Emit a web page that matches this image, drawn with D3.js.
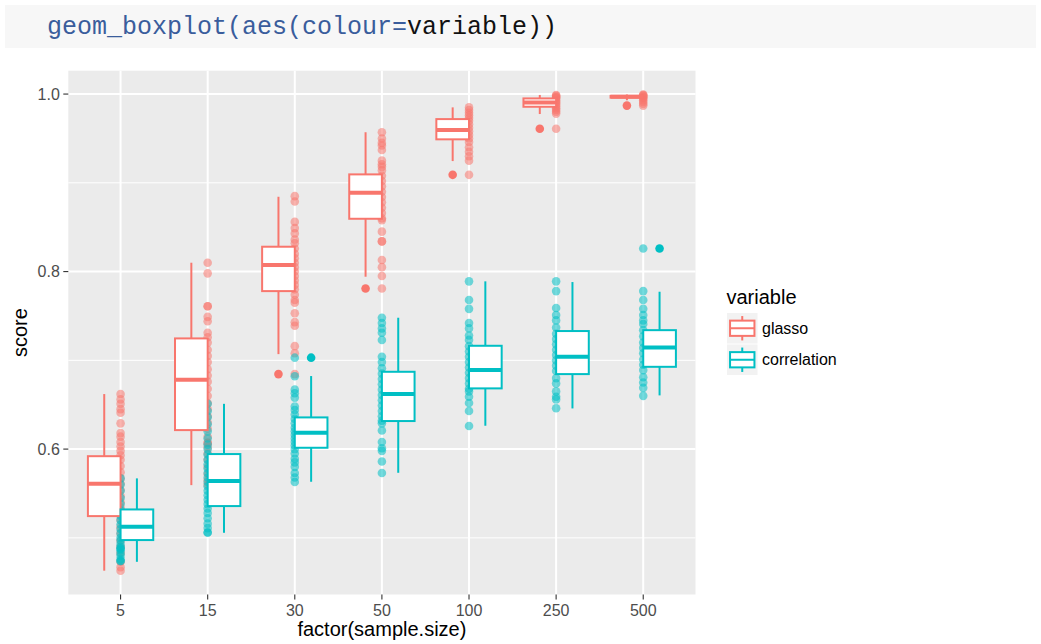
<!DOCTYPE html>
<html>
<head>
<meta charset="utf-8">
<script src="https://cdn.jsdelivr.net/npm/d3@7"></script>
<style>
  html, body { margin: 0; padding: 0; background: #ffffff; }
  svg { display: block; }
</style>
</head>
<body>
<svg id="chart" width="1041" height="644"></svg>
<script>
// ---- data -------------------------------------------------------------
const sampleSizes = ["5", "15", "30", "50", "100", "250", "500"];
const variables = ["glasso", "correlation"];
const seriesColors = ["#F8766D", "#00BFC4"];
const yTicks = [0.6, 0.8, 1.0];
const yMinorTicks = [0.5, 0.7, 0.9];

// five-number summaries per sample size: [lower whisker, Q1, median, Q3, upper whisker]
const glassoBox = [
  [0.463, 0.5245, 0.561, 0.592, 0.662],
  [0.5594, 0.6214, 0.678, 0.7247, 0.810],
  [0.707, 0.778, 0.8073, 0.828, 0.8843],
  [0.7942, 0.8595, 0.8888, 0.9095, 0.957],
  [0.9245, 0.949, 0.9594, 0.9718, 0.985],
  [0.9775, 0.9857, 0.9906, 0.9951, 0.999],
  [0.993, 0.996, 0.997, 0.998, 0.9995]
];
const correlationBox = [
  [0.473, 0.4975, 0.5125, 0.532, 0.567],
  [0.5057, 0.5358, 0.564, 0.5944, 0.651],
  [0.5632, 0.6015, 0.6184, 0.6357, 0.6823],
  [0.5733, 0.6316, 0.662, 0.6871, 0.748],
  [0.6263, 0.6684, 0.689, 0.7164, 0.789],
  [0.6458, 0.6845, 0.704, 0.733, 0.7882],
  [0.6605, 0.6927, 0.7146, 0.734, 0.7773]
];
const glassoOutliers = [[], [], [0.6845], [0.781], [0.909], [0.961], [0.987]];
const correlationOutliers = [[], [], [0.703], [], [], [], [0.826]];

// individual scores per sample size
const glassoScores = [
  [0.662, 0.656, 0.651, 0.645, 0.641, 0.629, 0.618, 0.614, 0.608, 0.603, 0.598, 0.593, 0.588, 0.581, 0.574, 0.567, 0.561, 0.554, 0.547, 0.540, 0.534, 0.527, 0.520, 0.512, 0.505, 0.497, 0.490, 0.483, 0.473, 0.467, 0.463],
  [0.810, 0.798, 0.761, 0.761, 0.749, 0.744, 0.731, 0.726, 0.720, 0.712, 0.705, 0.698, 0.690, 0.683, 0.676, 0.668, 0.660, 0.652, 0.645, 0.637, 0.630, 0.623, 0.614, 0.607, 0.607, 0.602, 0.595, 0.588, 0.580, 0.572, 0.565, 0.560],
  [0.885, 0.879, 0.856, 0.849, 0.843, 0.836, 0.832, 0.826, 0.820, 0.815, 0.810, 0.805, 0.800, 0.795, 0.790, 0.785, 0.780, 0.774, 0.768, 0.765, 0.753, 0.743, 0.739, 0.716, 0.708, 0.6845],
  [0.957, 0.950, 0.945, 0.942, 0.937, 0.925, 0.921, 0.918, 0.914, 0.908, 0.902, 0.896, 0.890, 0.884, 0.878, 0.872, 0.866, 0.860, 0.858, 0.845, 0.834, 0.834, 0.813, 0.805, 0.795, 0.781],
  [0.985, 0.982, 0.979, 0.976, 0.973, 0.970, 0.966, 0.962, 0.958, 0.954, 0.950, 0.946, 0.940, 0.935, 0.930, 0.925, 0.909],
  [0.999, 0.998, 0.997, 0.996, 0.995, 0.993, 0.991, 0.990, 0.988, 0.986, 0.984, 0.982, 0.980, 0.978, 0.961],
  [0.9995, 0.999, 0.998, 0.997, 0.996, 0.995, 0.993, 0.991, 0.989, 0.987]
];
const correlationScores = [
  [0.567, 0.560, 0.553, 0.545, 0.538, 0.531, 0.525, 0.520, 0.515, 0.510, 0.505, 0.500, 0.497, 0.493, 0.490, 0.488, 0.488, 0.486, 0.483, 0.480, 0.476, 0.474, 0.474],
  [0.651, 0.643, 0.636, 0.628, 0.620, 0.612, 0.605, 0.600, 0.594, 0.588, 0.583, 0.578, 0.573, 0.568, 0.563, 0.558, 0.553, 0.548, 0.543, 0.538, 0.533, 0.528, 0.522, 0.516, 0.511, 0.506, 0.506],
  [0.703, 0.682, 0.667, 0.663, 0.658, 0.648, 0.644, 0.639, 0.634, 0.629, 0.624, 0.620, 0.616, 0.612, 0.608, 0.604, 0.600, 0.595, 0.589, 0.585, 0.580, 0.573, 0.568, 0.563],
  [0.748, 0.742, 0.736, 0.731, 0.723, 0.704, 0.698, 0.691, 0.685, 0.679, 0.673, 0.667, 0.661, 0.655, 0.649, 0.643, 0.637, 0.632, 0.629, 0.621, 0.608, 0.601, 0.598, 0.586, 0.573],
  [0.789, 0.768, 0.758, 0.742, 0.736, 0.728, 0.723, 0.716, 0.710, 0.704, 0.698, 0.692, 0.686, 0.680, 0.674, 0.668, 0.665, 0.659, 0.652, 0.643, 0.626],
  [0.789, 0.778, 0.759, 0.751, 0.745, 0.737, 0.730, 0.724, 0.718, 0.712, 0.706, 0.700, 0.694, 0.688, 0.680, 0.674, 0.665, 0.659, 0.656, 0.646],
  [0.826, 0.778, 0.768, 0.758, 0.751, 0.745, 0.741, 0.734, 0.727, 0.720, 0.714, 0.708, 0.701, 0.695, 0.689, 0.681, 0.675, 0.669, 0.660]
];

// ---- layout -----------------------------------------------------------
const svg = d3.select("#chart");
const panel = { left: 68.3, right: 695.5, top: 70.7, bottom: 594.5 };
const sansFont = "'Liberation Sans', Arial, Helvetica, sans-serif";

// code header line
svg.append("rect").attr("x", 5).attr("y", 5).attr("width", 1031).attr("height", 43)
  .attr("fill", "#f7f7f7");
const code = svg.append("text").attr("x", 47).attr("y", 34)
  .attr("font-family", "'Liberation Mono', 'Courier New', Cousine, Courier, monospace")
  .attr("font-size", 25);
[["geom_boxplot(", "#3a5d9c"], ["aes(", "#3a5d9c"], ["colour=", "#3a5d9c"], ["variable))", "#111111"]]
  .forEach(([t, c]) => code.append("tspan").attr("fill", c).text(t));

// ---- scales -----------------------------------------------------------
const allValues = [glassoBox, correlationBox].flat(2)
  .concat(glassoScores.flat(), correlationScores.flat());
const [vMin, vMax] = d3.extent(allValues);
const pad = (vMax - vMin) * 0.05;
const y = d3.scaleLinear().domain([vMin - pad, vMax + pad]).range([panel.bottom, panel.top]);
const x = d3.scalePoint().domain(sampleSizes).range([panel.left, panel.right]).padding(0.6);
const step = x.step();
const boxW = step * 0.375;

// ---- panel ------------------------------------------------------------
svg.append("rect").attr("x", panel.left).attr("y", panel.top)
  .attr("width", panel.right - panel.left).attr("height", panel.bottom - panel.top)
  .attr("fill", "#ebebeb");

const grid = svg.append("g");
grid.selectAll(".minor").data(yMinorTicks).join("line")
  .attr("x1", panel.left).attr("x2", panel.right)
  .attr("y1", d => y(d)).attr("y2", d => y(d))
  .attr("stroke", "#ffffff").attr("stroke-width", 1);
grid.selectAll(".major").data(yTicks).join("line")
  .attr("x1", panel.left).attr("x2", panel.right)
  .attr("y1", d => y(d)).attr("y2", d => y(d))
  .attr("stroke", "#ffffff").attr("stroke-width", 2);
grid.selectAll(".xmajor").data(sampleSizes).join("line")
  .attr("x1", d => x(d)).attr("x2", d => x(d))
  .attr("y1", panel.top).attr("y2", panel.bottom)
  .attr("stroke", "#ffffff").attr("stroke-width", 2);

// ---- semi-transparent score points at the group centre ---------------
const scoreSets = [glassoScores, correlationScores];
const pts = svg.append("g");
scoreSets.forEach((set, vi) => {
  set.forEach((vals, gi) => {
    pts.selectAll(null).data(vals).join("circle")
      .attr("cx", x(sampleSizes[gi]))
      .attr("cy", d => y(d))
      .attr("r", 4.3)
      .attr("fill", seriesColors[vi])
      .attr("fill-opacity", 0.55);
  });
});

// ---- boxplots ---------------------------------------------------------
const boxSets = [glassoBox, correlationBox];
const outlierSets = [glassoOutliers, correlationOutliers];
const boxes = svg.append("g");
boxSets.forEach((set, vi) => {
  const col = seriesColors[vi];
  set.forEach((s, gi) => {
    const c = x(sampleSizes[gi]);
    const x0 = vi === 0 ? c - boxW : c;
    const mid = x0 + boxW / 2;
    const [lo, q1, med, q3, hi] = s;
    const g = boxes.append("g");
    g.selectAll(null).data(outlierSets[vi][gi]).join("circle")
      .attr("cx", mid).attr("cy", d => y(d)).attr("r", 4.3).attr("fill", col);
    g.append("line").attr("x1", mid).attr("x2", mid).attr("y1", y(hi)).attr("y2", y(q3))
      .attr("stroke", col).attr("stroke-width", 2);
    g.append("line").attr("x1", mid).attr("x2", mid).attr("y1", y(q1)).attr("y2", y(lo))
      .attr("stroke", col).attr("stroke-width", 2);
    g.append("rect").attr("x", x0).attr("y", y(q3))
      .attr("width", boxW).attr("height", Math.max(0.5, y(q1) - y(q3)))
      .attr("fill", "#ffffff").attr("stroke", col).attr("stroke-width", 2);
    g.append("line").attr("x1", x0).attr("x2", x0 + boxW).attr("y1", y(med)).attr("y2", y(med))
      .attr("stroke", col).attr("stroke-width", 4);
  });
});

// ---- axes -------------------------------------------------------------
const axes = svg.append("g").attr("font-family", sansFont);
axes.selectAll(".yt").data(yTicks).join("line")
  .attr("x1", panel.left - 5).attr("x2", panel.left)
  .attr("y1", d => y(d)).attr("y2", d => y(d))
  .attr("stroke", "#333333").attr("stroke-width", 1.1);
axes.selectAll(".yl").data(yTicks).join("text")
  .attr("x", panel.left - 8.5).attr("y", d => y(d) + 5.6)
  .attr("text-anchor", "end").attr("font-size", 16).attr("fill", "#4d4d4d")
  .text(d => d3.format(".1f")(d));
axes.selectAll(".xt").data(sampleSizes).join("line")
  .attr("x1", d => x(d)).attr("x2", d => x(d))
  .attr("y1", panel.bottom).attr("y2", panel.bottom + 5)
  .attr("stroke", "#333333").attr("stroke-width", 1.1);
axes.selectAll(".xl").data(sampleSizes).join("text")
  .attr("x", d => x(d)).attr("y", panel.bottom + 21.5)
  .attr("text-anchor", "middle").attr("font-size", 16).attr("fill", "#4d4d4d")
  .text(d => d);
axes.append("text").attr("x", (panel.left + panel.right) / 2).attr("y", 636)
  .attr("text-anchor", "middle").attr("font-size", 20).attr("fill", "#000000")
  .text("factor(sample.size)");
axes.append("text")
  .attr("transform", `translate(27,${(panel.top + panel.bottom) / 2}) rotate(-90)`)
  .attr("text-anchor", "middle").attr("font-size", 20).attr("fill", "#000000")
  .text("score");

// ---- legend -----------------------------------------------------------
const legend = svg.append("g").attr("font-family", sansFont);
legend.append("text").attr("x", 726.5).attr("y", 303.5)
  .attr("font-size", 20).attr("fill", "#000000").text("variable");
const keySize = 30.5;
variables.forEach((v, i) => {
  const kx = 727, ky = 313 + i * (keySize + 1);
  const col = seriesColors[i];
  const k = legend.append("g");
  k.append("rect").attr("x", kx).attr("y", ky).attr("width", keySize).attr("height", keySize)
    .attr("fill", "#f2f2f2");
  const cx = kx + keySize / 2;
  k.append("line").attr("x1", cx).attr("x2", cx).attr("y1", ky + keySize * 0.1).attr("y2", ky + keySize * 0.25)
    .attr("stroke", col).attr("stroke-width", 2);
  k.append("line").attr("x1", cx).attr("x2", cx).attr("y1", ky + keySize * 0.75).attr("y2", ky + keySize * 0.9)
    .attr("stroke", col).attr("stroke-width", 2);
  k.append("rect").attr("x", kx + keySize * 0.1).attr("y", ky + keySize * 0.25)
    .attr("width", keySize * 0.8).attr("height", keySize * 0.5)
    .attr("fill", "#ffffff").attr("stroke", col).attr("stroke-width", 2);
  k.append("line").attr("x1", kx + keySize * 0.1).attr("x2", kx + keySize * 0.9)
    .attr("y1", ky + keySize / 2).attr("y2", ky + keySize / 2)
    .attr("stroke", col).attr("stroke-width", 2);
  legend.append("text").attr("x", kx + keySize + 4.5).attr("y", ky + keySize / 2 + 5.6)
    .attr("font-size", 16).attr("fill", "#000000").text(v);
});
</script>
</body>
</html>
